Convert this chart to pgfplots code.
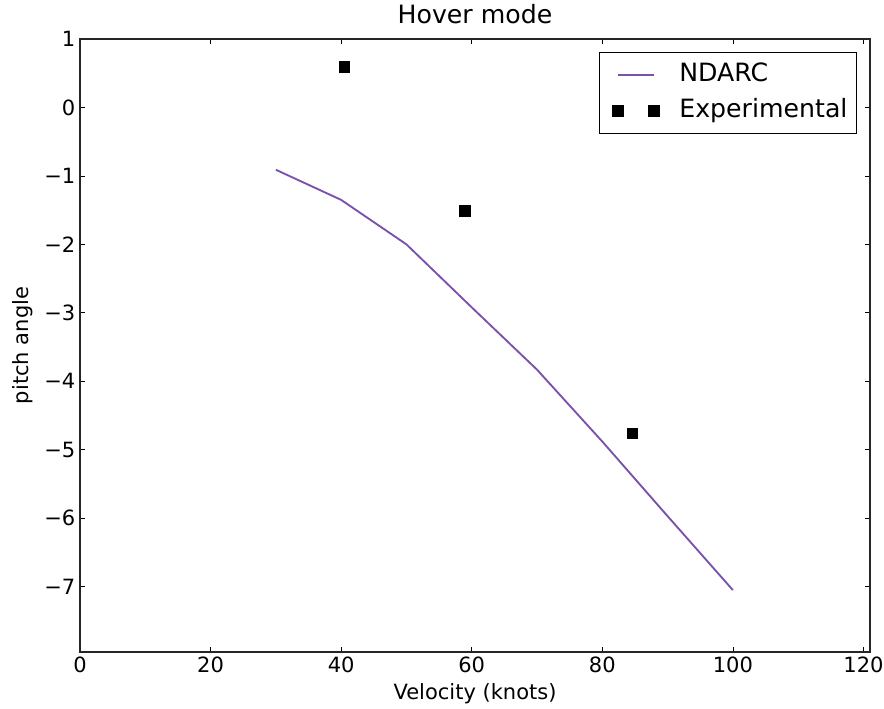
\documentclass[border=0pt]{standalone}
\usepackage{pgfplots}
\pgfplotsset{compat=1.18}
\usepackage{fontspec}
\setmainfont{DejaVu Sans}
\definecolor{ndarc}{RGB}{122,82,174}
\pgfplotsset{
  twomarks/.style={legend image code/.code={\path (0pt,0pt) (35.75pt,0pt); \draw[##1] plot coordinates {(8.75pt,0pt) (35.75pt,0pt)};}},
  lineimg/.style={legend image code/.code={\path (0pt,0pt); \draw[##1] (8.75pt,0pt) -- (35.75pt,0pt);}}
}
\begin{document}
\begin{tikzpicture}
\begin{axis}[
  scale only axis,
  width=592.5pt, height=459.75pt,
  xmin=0, xmax=121, ymin=-7.954, ymax=1,
  xtick={0,20,...,120},
  ytick={-7,-6,...,1},
  yticklabels={−7,−6,−5,−4,−3,−2,−1,0,1},
  tick align=inside,
  major tick length=4pt,
  tick style={black, line width=0.6pt},
  axis line style={line width=1pt, black!85},
  ticklabel style={font=\fontsize{15.75}{18}\selectfont},
  /pgf/number format/assume math mode=true,
  label style={font=\fontsize{15.75}{18}\selectfont},
  xlabel={Velocity (knots)},
  ylabel={pitch angle},
  xlabel style={at={([yshift=-31.5pt]axis description cs:0.5,0)}, anchor=center},
  ylabel style={at={([xshift=-43pt]axis description cs:0,0.5)}, anchor=center},
  title={Hover mode},
  title style={font=\fontsize{18.9}{22}\selectfont, at={([yshift=12.8pt]axis description cs:0.5,1)}, anchor=center},
  legend style={at={(axis description cs:0.9835,0.9788)}, anchor=north east,
    draw=black, line width=0.8pt, font=\fontsize{18.9}{22}\selectfont,
    inner xsep=4pt, inner ysep=5pt, row sep=3pt,
    nodes={inner sep=2.75pt, text height=14pt, text depth=4.5pt},
    /tikz/every odd column/.append style={column sep=12.5pt}},
  legend cell align=left,
]
\addplot[color=ndarc, line width=1.4pt, lineimg] coordinates {
  (30,-0.91) (40,-1.35) (50,-2.0) (60,-2.92) (70,-3.83) (80,-4.88) (90,-5.97) (100,-7.05)
};
\addlegendentry{NDARC}
\addplot[only marks, mark=square*, mark size=4pt, black, twomarks] coordinates {
  (40.5,0.595) (58.9,-1.51) (84.6,-4.76)
};
\addlegendentry{Experimental}
\end{axis}
\pgfresetboundingbox
\useasboundingbox ([xshift=-60pt,yshift=-42pt]current axis.south west) rectangle ([xshift=10.5pt,yshift=29.25pt]current axis.north east);
\end{tikzpicture}
\end{document}
